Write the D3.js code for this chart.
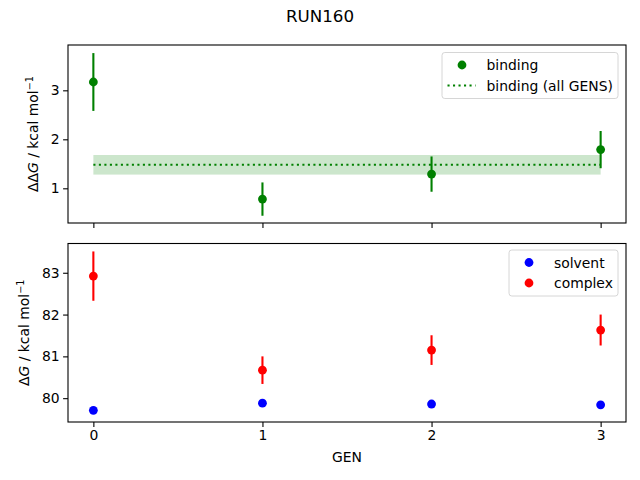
<!DOCTYPE html>
<html>
<head>
<meta charset="utf-8">
<script src="https://cdn.jsdelivr.net/npm/d3@7"></script>
<style>
  body { margin: 0; background: #fff; }
  svg { font-family: "DejaVu Sans", sans-serif; }
</style>
</head>
<body>
<div id="chart"></div>
<script>
// values
const gens = [0, 1, 2, 3];
const bindingVals = [3.17, 0.78, 1.29, 1.79];
const bindingErrs = [0.59, 0.34, 0.36, 0.38];
const bindingAll = 1.48;
const bindingAllErr = 0.20;
const solventVals = [79.71, 79.88, 79.86, 79.84];
const solventErrs = [0.03, 0.03, 0.03, 0.03];
const complexVals = [82.92, 80.67, 81.15, 81.63];
const complexErrs = [0.59, 0.33, 0.355, 0.37];
const topTicks = [1, 2, 3];
const bottomTicks = [80, 81, 82, 83];

const W = 640, H = 480;
const left = 68, right = 626;
const topPanel = { y0: 45, y1: 223 };
const botPanel = { y0: 243.5, y1: 422 };

const svg = d3.select("#chart").append("svg")
  .attr("width", W).attr("height", H);

const x = d3.scaleLinear().domain([-0.15, 3.15]).range([left, right]);
const yTop = d3.scaleLinear().domain([0.292, 3.925]).range([topPanel.y1, topPanel.y0]);
const yBot = d3.scaleLinear().domain([79.43, 83.70]).range([botPanel.y1, botPanel.y0]);

svg.append("text")
  .attr("x", W / 2).attr("y", 22)
  .attr("text-anchor", "middle")
  .attr("font-size", 16.7)
  .text("RUN160");

function axesFrame(y, panel, ticks, showXLabels) {
  const g = svg.append("g");
  const xAxis = d3.axisBottom(x).tickValues(gens).tickSize(4.9).tickPadding(3.5)
    .tickFormat(showXLabels ? d3.format("d") : "");
  const gx = g.append("g").attr("transform", "translate(0," + panel.y1 + ")").call(xAxis);
  const yAxis = d3.axisLeft(y).tickValues(ticks).tickSize(4.9).tickPadding(3.5).tickFormat(d3.format("d"));
  const gy = g.append("g").attr("transform", "translate(" + left + ",0)").call(yAxis);
  [gx, gy].forEach(a => {
    a.select(".domain").remove();
    a.selectAll(".tick line").attr("stroke", "#000").attr("stroke-width", 1.1);
    a.selectAll(".tick text").attr("font-size", 13.9).attr("fill", "#000")
      .attr("font-family", "DejaVu Sans, sans-serif");
  });
  return g;
}

function frame(panel) {
  svg.append("rect")
    .attr("x", left).attr("y", panel.y0)
    .attr("width", right - left).attr("height", panel.y1 - panel.y0)
    .attr("fill", "none").attr("stroke", "#000").attr("stroke-width", 1.1);
}

function errPoints(y, vals, errs, color) {
  const g = svg.append("g");
  g.selectAll("line").data(gens).enter().append("line")
    .attr("x1", d => x(d)).attr("x2", d => x(d))
    .attr("y1", (d, i) => y(vals[i] - errs[i]))
    .attr("y2", (d, i) => y(vals[i] + errs[i]))
    .attr("stroke", color).attr("stroke-width", 2.1);
  g.selectAll("circle").data(gens).enter().append("circle")
    .attr("cx", d => x(d)).attr("cy", (d, i) => y(vals[i]))
    .attr("r", 4.4).attr("fill", color);
}

function yLabel(cx, cy, prefix) {
  const t = svg.append("text")
    .attr("transform", "translate(" + cx + "," + cy + ") rotate(-90)")
    .attr("text-anchor", "middle")
    .attr("font-size", 13.9);
  t.append("tspan").text(prefix);
  t.append("tspan").attr("font-style", "italic").text("G");
  t.append("tspan").text(" / kcal mol");
  t.append("tspan").attr("font-size", 9.7).attr("dy", -5.5).text("\u22121");
}

function legend(x0, y0, w, h, items) {
  const g = svg.append("g");
  g.append("rect")
    .attr("x", x0).attr("y", y0).attr("width", w).attr("height", h)
    .attr("rx", 2.8).attr("fill", "rgba(255,255,255,0.8)")
    .attr("stroke", "#d6d6d6").attr("stroke-width", 1);
  items.forEach((it, i) => {
    const cy = y0 + 12.5 + i * 20.5;
    if (it.type === "dot") {
      g.append("circle").attr("cx", x0 + 20).attr("cy", cy).attr("r", 4.4).attr("fill", it.color);
    } else {
      g.append("line").attr("x1", x0 + 5.5).attr("x2", x0 + 33.5)
        .attr("y1", cy).attr("y2", cy)
        .attr("stroke", it.color).attr("stroke-width", 2.1)
        .attr("stroke-dasharray", "2.1 3.4");
    }
    g.append("text").attr("x", x0 + it.tx).attr("y", cy + 5)
      .attr("font-size", 13.9).text(it.label);
  });
}

// top panel: binding
axesFrame(yTop, topPanel, topTicks, false);
svg.append("rect")
  .attr("x", x(gens[0])).attr("width", x(gens[gens.length - 1]) - x(gens[0]))
  .attr("y", yTop(bindingAll + bindingAllErr))
  .attr("height", yTop(bindingAll - bindingAllErr) - yTop(bindingAll + bindingAllErr))
  .attr("fill", "rgba(0,128,0,0.2)");
svg.append("line")
  .attr("x1", x(gens[0])).attr("x2", x(gens[gens.length - 1]))
  .attr("y1", yTop(bindingAll)).attr("y2", yTop(bindingAll))
  .attr("stroke", "green").attr("stroke-width", 2.1)
  .attr("stroke-dasharray", "2.1 3.4");
errPoints(yTop, bindingVals, bindingErrs, "green");
frame(topPanel);
legend(442, 52.5, 176, 46, [
  { type: "dot", color: "green", label: "binding", tx: 44.5 },
  { type: "line", color: "green", label: "binding (all GENS)", tx: 44.5 }
]);
yLabel(38, (topPanel.y0 + topPanel.y1) / 2, "\u0394\u0394");

// bottom panel: solvent / complex
axesFrame(yBot, botPanel, bottomTicks, true);
errPoints(yBot, solventVals, solventErrs, "blue");
errPoints(yBot, complexVals, complexErrs, "red");
frame(botPanel);
legend(509, 250, 109, 46, [
  { type: "dot", color: "blue", label: "solvent", tx: 45 },
  { type: "dot", color: "red", label: "complex", tx: 45 }
]);
yLabel(29, (botPanel.y0 + botPanel.y1) / 2, "\u0394");

svg.append("text")
  .attr("x", (left + right) / 2).attr("y", 462)
  .attr("text-anchor", "middle").attr("font-size", 13.9)
  .text("GEN");
</script>
</body>
</html>
